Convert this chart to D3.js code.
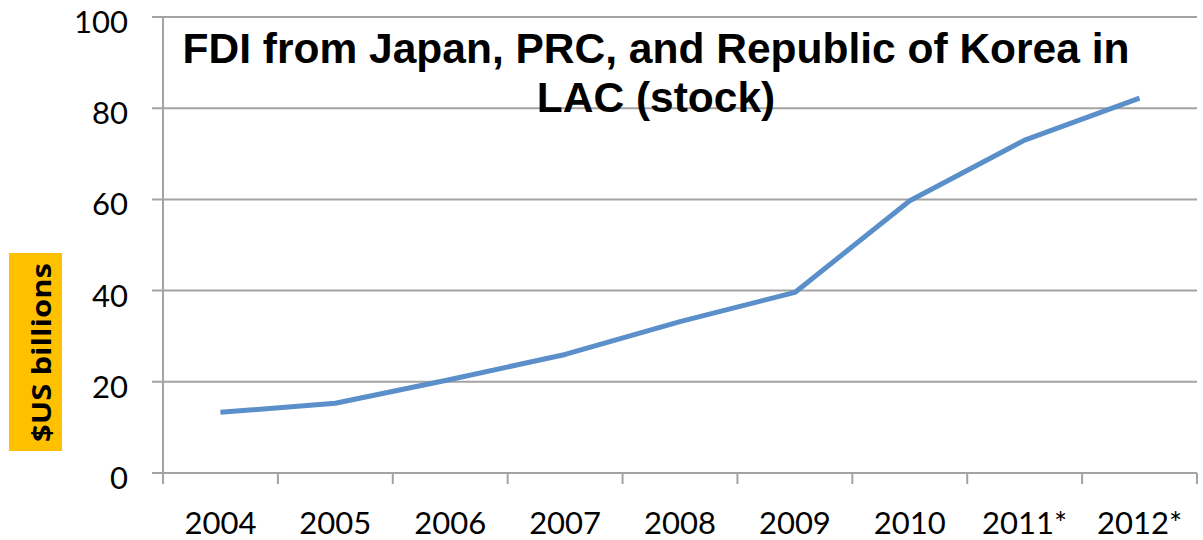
<!DOCTYPE html>
<html>
<head>
<meta charset="utf-8">
<script src="https://cdn.jsdelivr.net/npm/d3@7"></script>
<style>
  html, body { margin: 0; padding: 0; background: #fff; }
  svg { display: block; }
</style>
</head>
<body>
<svg id="chart" width="1203" height="540"></svg>
<script>
// FDI stock from Japan, PRC and Republic of Korea in LAC, $US billions
const years = ["2004", "2005", "2006", "2007", "2008", "2009", "2010", "2011*", "2012*"];
const fdiStock = [13.3, 15.3, 20.5, 26.0, 33.2, 39.6, 59.7, 73.0, 82.2];
const yTicks = [0, 20, 40, 60, 80, 100];
const titleLines = ["FDI from Japan, PRC, and Republic of Korea in", "LAC (stock)"];
const yLabel = "$US billions";

const svg = d3.select("#chart");
const m = { left: 163, right: 1197, top: 17, bottom: 473 };
const gridColor = "#a3a3a3";
const tickFont = "Lato, 'Open Sans', sans-serif";

const x = d3.scaleBand().domain(years).range([m.left, m.right]).padding(0);
const y = d3.scaleLinear().domain([0, 100]).range([m.bottom, m.top]);

// horizontal gridlines with short ticks left of the axis
svg.append("g").selectAll("line").data(yTicks).join("line")
  .attr("x1", m.left - 11).attr("x2", m.right)
  .attr("y1", d => y(d)).attr("y2", d => y(d))
  .attr("stroke", gridColor).attr("stroke-width", 2);

// vertical axis line
svg.append("line")
  .attr("x1", m.left).attr("x2", m.left)
  .attr("y1", m.top).attr("y2", m.bottom + 11)
  .attr("stroke", gridColor).attr("stroke-width", 2);

// category boundary ticks under the baseline
const bounds = years.map(d => x(d)).concat([x(years[years.length - 1]) + x.bandwidth()]);
svg.append("g").selectAll("line").data(bounds.slice(1)).join("line")
  .attr("x1", d => d).attr("x2", d => d)
  .attr("y1", m.bottom).attr("y2", m.bottom + 11)
  .attr("stroke", gridColor).attr("stroke-width", 2);

// y tick labels (sit slightly below their gridlines)
svg.append("g").selectAll("text").data(yTicks).join("text")
  .attr("x", 128).attr("y", d => y(d))
  .attr("dy", 16)
  .attr("text-anchor", "end")
  .attr("font-family", tickFont).attr("font-size", 31)
  .attr("fill", "#000")
  .text(d => d);

// x tick labels
svg.append("g").selectAll("text").data(years).join("text")
  .attr("x", d => x(d) + x.bandwidth() / 2).attr("y", 534)
  .attr("text-anchor", "middle")
  .attr("font-family", tickFont).attr("font-size", 31)
  .attr("fill", "#000")
  .text(d => d);

// series line
const line = d3.line()
  .x((d, i) => x(years[i]) + x.bandwidth() / 2)
  .y(d => y(d));
svg.append("path")
  .datum(fdiStock)
  .attr("d", line)
  .attr("fill", "none")
  .attr("stroke", "#5b8fc9")
  .attr("stroke-width", 5)
  .attr("stroke-linejoin", "round");

// title
const title = svg.append("g");
titleLines.forEach((t, i) => {
  title.append("text")
    .attr("x", 656).attr("y", 63 + i * 49)
    .attr("text-anchor", "middle")
    .attr("font-family", "'Liberation Sans', Arial, sans-serif")
    .attr("font-weight", "bold").attr("font-size", 42.5)
    .attr("fill", "#000")
    .text(t);
});

// y axis label on gold box
svg.append("rect")
  .attr("x", 9).attr("y", 253).attr("width", 53).attr("height", 198)
  .attr("fill", "#ffc000");
svg.append("text")
  .attr("transform", "translate(51,352.5) rotate(-90)")
  .attr("text-anchor", "middle")
  .attr("font-family", "'Open Sans', Lato, sans-serif").attr("font-weight", "bold").attr("font-size", 27)
  .attr("textLength", 179).attr("lengthAdjust", "spacingAndGlyphs")
  .attr("fill", "#000")
  .text(yLabel);
</script>
</body>
</html>
